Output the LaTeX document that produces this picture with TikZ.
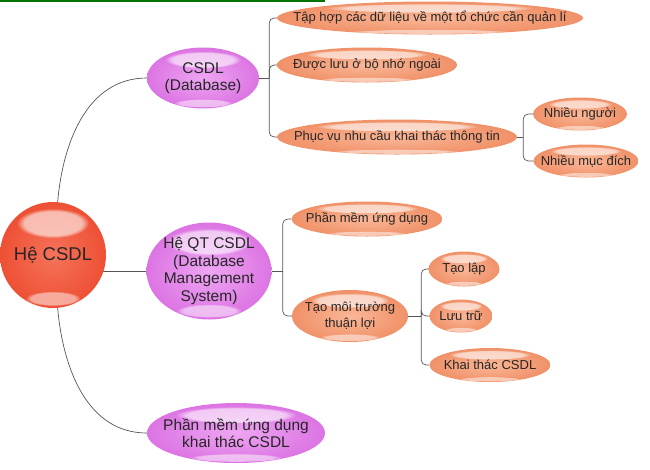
\documentclass[tikz,border=0pt]{standalone}
\usepackage{fontspec}
\setmainfont{Liberation Sans}
\usepackage{tikz}
\usepackage{xcolor}
\usetikzlibrary{calc,backgrounds,fadings}

\definecolor{redIn}{HTML}{F5735A}
\definecolor{redOut}{HTML}{EE5034}
\definecolor{purIn}{HTML}{EEA6F2}
\definecolor{purOut}{HTML}{DC74E3}
\definecolor{orgIn}{HTML}{FAB797}
\definecolor{orgOut}{HTML}{F09168}
\definecolor{lineGray}{HTML}{555555}

\tikzset{
  gloss/.style 2 args={rectangle, inner sep=0pt, align=center, text=black!85,
    path picture={
      \shade[inner color=#1, outer color=#2] let \p1=(path picture bounding box.south west),
        \p2=(path picture bounding box.north east) in
        ({(\x1+\x2)/2},{(\y1+\y2)/2}) ellipse [x radius={(\x2-\x1)/2}, y radius={(\y2-\y1)/2}];
      \fill[white, opacity=.6, path fading=circle with fuzzy edge 20 percent] let \p1=(path picture bounding box.south west),
        \p2=(path picture bounding box.north east) in
        ({(\x1+\x2)/2},{\y2-0.2*(\y2-\y1)}) ellipse [x radius={0.34*(\x2-\x1)}, y radius={0.14*(\y2-\y1)}];
      \fill[white, opacity=.5, path fading=circle with fuzzy edge 20 percent] let \p1=(path picture bounding box.south west),
        \p2=(path picture bounding box.north east) in
        ({(\x1+\x2)/2},{\y1+0.09*(\y2-\y1)}) ellipse [x radius={0.26*(\x2-\x1)}, y radius={0.07*(\y2-\y1)}];
    }},
  rootnode/.style={gloss={redIn}{redOut}, font=\fontsize{18.5}{20}\selectfont},
  mainnode/.style={gloss={purIn}{purOut}, font=\fontsize{15.5}{17.5}\selectfont},
  leafnode/.style={gloss={orgIn}{orgOut}, font=\fontsize{13}{16}\selectfont},
  link/.style={draw=lineGray, line width=0.7pt},
  branch/.style={link, rounded corners=5pt},
}

\begin{document}
\begin{tikzpicture}[x=1pt, y=-1pt]
\useasboundingbox (0,0) rectangle (650,469);
\fill[green!45!black] (0,0) rectangle (325,2);

% root and main branches
\node[rootnode, minimum width=106, minimum height=106] (he) at (53,255) {Hệ CSDL};
\node[mainnode, minimum width=112, minimum height=61] (csdl) at (203,78) {CSDL\\(Database)};
\node[mainnode, minimum width=125, minimum height=97] (qt) at (209,271) {Hệ QT CSDL\\(Database\\Management\\System)};
\node[mainnode, minimum width=178, minimum height=60] (pm) at (236,433) {Phần mềm ứng dụng\\khai thác CSDL};

% CSDL
\node[leafnode, minimum width=306, minimum height=33] (tap) at (430,18) {Tập hợp các dữ liệu về một tổ chức cần quản lí};
\node[leafnode, minimum width=180, minimum height=35] (luu) at (367,65) {Được lưu ở bộ nhớ ngoài};
\node[leafnode, minimum width=240, minimum height=35] (phuc) at (397,137) {Phục vụ nhu cầu khai thác thông tin};
\node[leafnode, minimum width=94, minimum height=33] (nguoi) at (580,114) {Nhiều người};
\node[leafnode, minimum width=105, minimum height=33] (mucdich) at (586,161) {Nhiều mục đích};

% He QT CSDL
\node[leafnode, minimum width=151, minimum height=35] (pmud) at (367,219) {Phần mềm ứng dụng};
\node[leafnode, minimum width=116, minimum height=52] (moitruong) at (350,316) {Tạo môi trường\\thuận lợi};
\node[leafnode, minimum width=71, minimum height=35] (taolap) at (464,269) {Tạo lập};
\node[leafnode, minimum width=63, minimum height=33] (luutru) at (461,316) {Lưu trữ};
\node[leafnode, minimum width=121, minimum height=34] (khaithac) at (490,365) {Khai thác CSDL};

\begin{scope}[on background layer]
\draw[link] (he.85) to[out=85, in=180] (csdl.west);
\draw[link] (he.center |- qt.west) -- (qt.west);
\draw[link] (he.-85) to[out=-85, in=180] (pm.west);

\draw[link] (csdl.east) -- ++(10,0) coordinate (j1);
\draw[link] (phuc.east) -- ++(6,0) coordinate (j2);
\draw[link] (qt.east) -- ++(11,0) coordinate (j3);
\draw[link] (moitruong.east) -- ++(13,0) coordinate (j4);

\foreach \c in {tap,luu,phuc} \draw[branch] (j1) |- (\c.west);
\foreach \c in {nguoi,mucdich} \draw[branch] (j2) |- (\c.west);
\foreach \c in {pmud,moitruong} \draw[branch] (j3) |- (\c.west);
\foreach \c in {taolap,luutru,khaithac} \draw[branch] (j4) |- (\c.west);
\end{scope}
\end{tikzpicture}
\end{document}
